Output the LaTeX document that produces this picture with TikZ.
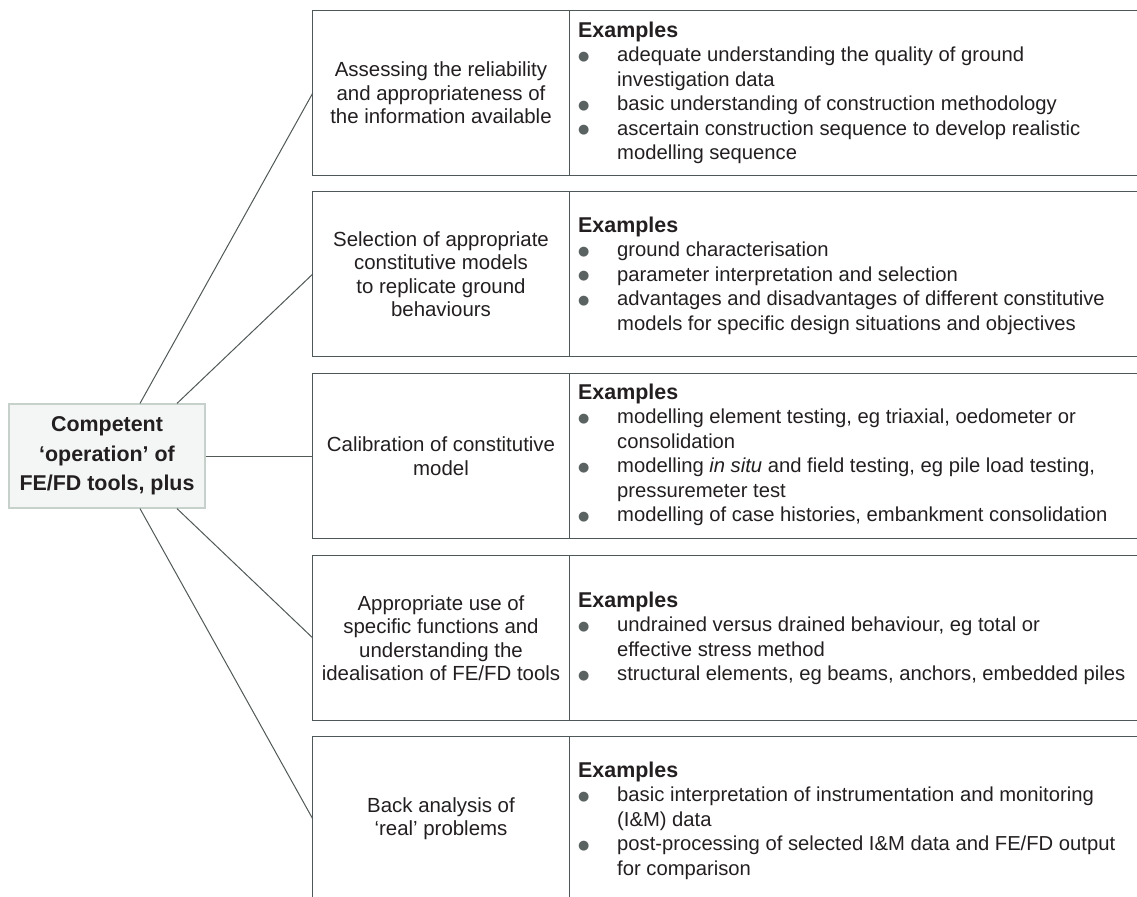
\documentclass[tikz,border=0pt]{standalone}
\usepackage{fontspec}
\setmainfont{Liberation Sans}
\newfontfamily\symfont{DejaVu Sans}
\usepackage{array}

\definecolor{ink}{HTML}{231F20}
\definecolor{frame}{HTML}{4F5858}
\definecolor{wire}{HTML}{505858}
\definecolor{dot}{HTML}{5A6362}
\definecolor{hubfill}{HTML}{F3F6F4}
\definecolor{hubline}{HTML}{C6D1CC}

% bullet used in the example lists
\newcommand\bul{\makebox[39bp][l]{\raisebox{1.5bp}{\textcolor{dot}{\symfont\fontsize{13}{13}\selectfont ●}}}}
\newcommand\exhead{\multicolumn{2}{@{}l@{}}{\fontsize{21.5}{24.5}\selectfont\bfseries Examples}\\[0.5bp]}
\newenvironment{exlist}{\begin{tabular}[t]{@{}l@{}l@{}}\exhead}{\end{tabular}}

\tikzset{
  cell/.style={minimum width=256bp, minimum height=164bp, inner sep=0pt,
    align=center, text=ink, font=\fontsize{20.5}{23.5}\selectfont},
  examples/.style={anchor=base west, inner sep=0pt, text=ink,
    font=\fontsize{20.3}{24.5}\selectfont},
  hub/.style={draw=hubline, fill=hubfill, line width=1.2bp,
    minimum width=196bp, minimum height=104bp, inner sep=0pt, align=center,
    text=ink, font=\fontsize{21.5}{29.5}\selectfont\bfseries},
  frame/.style={draw=frame, line width=1.3bp},
  wire/.style={draw=wire, line width=1bp},
}

\begin{document}
\begin{tikzpicture}[x=1bp, y=-1bp]
\useasboundingbox (0,0) rectangle (1137,897);
\coordinate (R) at (1137,0);

% central box
\node[hub] (hub) at (107,456) {Competent\\‘operation’ of\\FE/FD tools, plus};

% left-hand cells of the five rows
\node[cell] (t1) at (441,93)  {Assessing the reliability\\and appropriateness of\\the information available};
\node[cell] (t2) at (441,274) {Selection of appropriate\\constitutive models\\to replicate ground\\behaviours};
\node[cell] (t3) at (441,456) {Calibration of constitutive\\model};
\node[cell] (t4) at (441,638) {Appropriate use of\\specific functions and\\understanding the\\idealisation of FE/FD tools};
\node[cell] (t5) at (441,819) {Back analysis of\\‘real’ problems};

% row frames, open on the right
\foreach \t in {t1,t2,t3,t4} {
  \draw[frame] (\t.north west -| R) -- (\t.north west) -- (\t.south west) -- (\t.south west -| R);
  \draw[frame] (\t.north east) -- (\t.south east);
}
\draw[frame] (t5.north west -| R) -- (t5.north west) -- (t5.south west);
\draw[frame] (t5.north east) -- (t5.south east);

% example lists
\node[examples] (e1) at (578,37) {\begin{exlist}
\bul & adequate understanding the quality of ground\\
     & investigation data\\
\bul & basic understanding of construction methodology\\
\bul & ascertain construction sequence to develop realistic\\
     & modelling sequence
\end{exlist}};
\node[examples] (e2) at (578,232) {\begin{exlist}
\bul & ground characterisation\\
\bul & parameter interpretation and selection\\
\bul & advantages and disadvantages of different constitutive\\
     & models for specific design situations and objectives
\end{exlist}};
\node[examples] (e3) at (578,399) {\begin{exlist}
\bul & modelling element testing, eg triaxial, oedometer or\\
     & consolidation\\
\bul & modelling \textit{in situ} and field testing, eg pile load testing,\\
     & pressuremeter test\\
\bul & modelling of case histories, embankment consolidation
\end{exlist}};
\node[examples] (e4) at (578,607) {\begin{exlist}
\bul & undrained versus drained behaviour, eg total or\\
     & effective stress method\\
\bul & structural elements, eg beams, anchors, embedded piles
\end{exlist}};
\node[examples] (e5) at (578,777) {\begin{exlist}
\bul & basic interpretation of instrumentation and monitoring\\
     & (I\&M) data\\
\bul & post-processing of selected I\&M data and FE/FD output\\
     & for comparison
\end{exlist}};

% connectors from the central box to each row
\draw[wire] ([xshift=33bp]hub.north) -- (t1.west);
\draw[wire] ([xshift=70bp]hub.north) -- (t2.west);
\draw[wire] (hub.east) -- (t3.west);
\draw[wire] ([xshift=70bp]hub.south) -- (t4.west);
\draw[wire] ([xshift=33bp]hub.south) -- (t5.west);
\end{tikzpicture}
\end{document}
